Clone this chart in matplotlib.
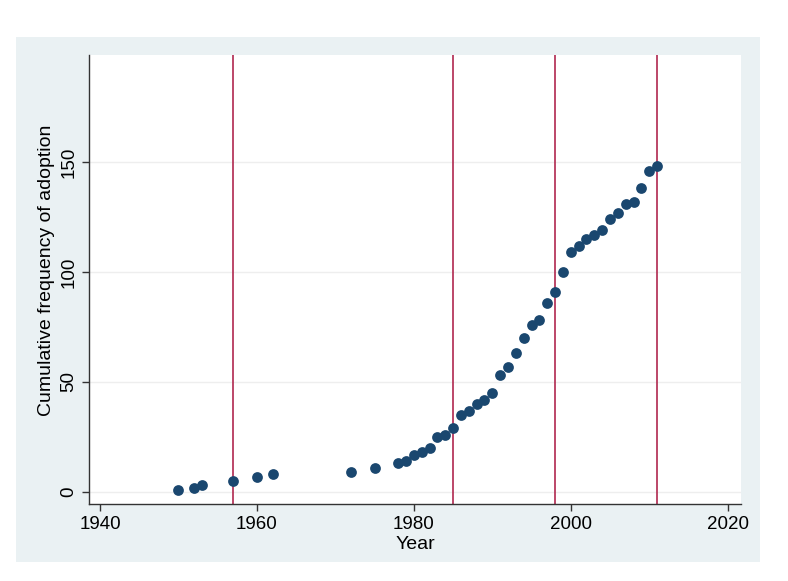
import matplotlib
matplotlib.use("Agg")
from matplotlib import pyplot as plt
from matplotlib.patches import Rectangle

years = [1950, 1952, 1953, 1957, 1960, 1962, 1972, 1975, 1978, 1979,
         1980, 1981, 1982, 1983, 1984, 1985, 1986, 1987, 1988, 1989,
         1990, 1991, 1992, 1993, 1994, 1995, 1996, 1997, 1998, 1999,
         2000, 2001, 2002, 2003, 2004, 2005, 2006, 2007, 2008, 2009,
         2010, 2011]
cum_freq = [1, 2, 3, 5, 7, 8, 9, 11, 13, 14,
            17, 18, 20, 25, 26, 29, 35, 37, 40, 42,
            45, 53, 57, 63, 70, 76, 78, 86, 91, 100,
            109, 112, 115, 117, 119, 124, 127, 131, 132, 138,
            146, 148]
break_years = [1957, 1985, 1998, 2011]
x_ticks = [1940, 1960, 1980, 2000, 2020]
y_ticks = [0, 50, 100, 150]

plt.rcParams["font.family"] = ["Liberation Sans", "DejaVu Sans"]

fig = plt.figure(figsize=(7.88, 5.81), dpi=100)
fig.patch.set_facecolor("white")
# light background panel behind the plot region
fig.patches.append(Rectangle((16 / 788, 1 - 562 / 581), 744 / 788, 525 / 581,
                             transform=fig.transFigure, facecolor="#eaf1f3",
                             edgecolor="none", zorder=-10))

ax = fig.add_axes([89 / 788, 1 - 504 / 581, 652 / 788, 449 / 581])
ax.set_facecolor("white")

for yt in y_ticks:
    ax.axhline(yt, color="#eeeeee", lw=1.0, zorder=1)
for by in break_years:
    ax.axvline(by, color="#b0284f", lw=1.2, zorder=2)

ax.scatter(years, cum_freq, s=60, color="#1a476f", zorder=3, linewidths=0)

ax.set_xlim(1938.6, 2021.7)
ax.set_ylim(-5.5, 198.6)
ax.set_xticks(x_ticks)
ax.set_yticks(y_ticks)
ax.set_yticklabels([str(v) for v in y_ticks], rotation=90, va="center")
ax.tick_params(axis="both", labelsize=13.5, color="#333333", length=5, width=1)
ax.set_xlabel("Year", fontsize=14, labelpad=2)
ax.set_ylabel("Cumulative frequency of adoption", fontsize=14)
ax.yaxis.set_label_coords(-0.052, 0.52)

for side in ["top", "right"]:
    ax.spines[side].set_visible(False)
for side in ["left", "bottom"]:
    ax.spines[side].set_color("#333333")
    ax.spines[side].set_linewidth(1.0)

plt.savefig("out.png", dpi=100)
plt.close()
